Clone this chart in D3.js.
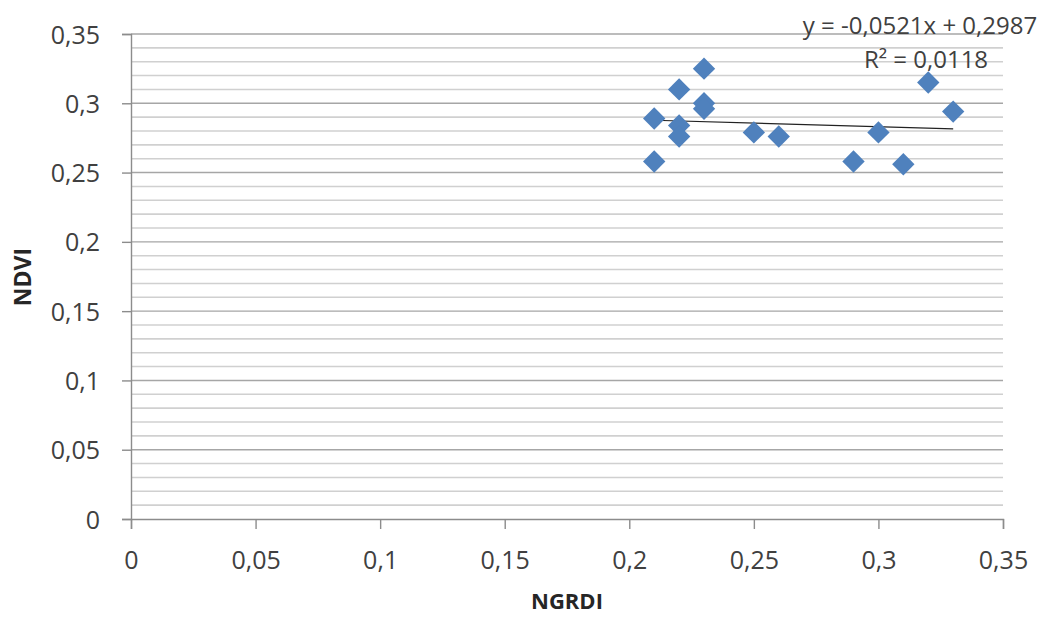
<!DOCTYPE html>
<html>
<head>
<meta charset="utf-8">
<script src="https://cdn.jsdelivr.net/npm/d3@7"></script>
<style>
  body { margin: 0; background: #fff; }
  text { font-family: "Open Sans", "Liberation Sans", sans-serif; }
</style>
</head>
<body>
<div id="chart"></div>
<script>
// NGRDI (x) vs NDVI (y)
var ngrdi = [0.21, 0.21, 0.22, 0.22, 0.22, 0.23, 0.23, 0.23, 0.25, 0.26, 0.29, 0.30, 0.31, 0.32, 0.33];
var ndvi  = [0.289, 0.258, 0.310, 0.284, 0.276, 0.325, 0.300, 0.296, 0.279, 0.276, 0.258, 0.279, 0.256, 0.315, 0.294];
var xTicks = [0, 0.05, 0.1, 0.15, 0.2, 0.25, 0.3, 0.35];
var yTicks = [0, 0.05, 0.1, 0.15, 0.2, 0.25, 0.3, 0.35];
var slope = -0.0521, intercept = 0.2987;
var eqLabel = 'y = -0,0521x + 0,2987';
var r2Label = 'R² = 0,0118';

var width = 1059, height = 618;
var svg = d3.select('#chart').append('svg')
    .attr('width', width)
    .attr('height', height);

var x = d3.scaleLinear().domain([0, 0.35]).range([131, 1003]);
var y = d3.scaleLinear().domain([0, 0.35]).range([519, 34]);
var fmt = function(d) { return String(+d.toFixed(2)).replace('.', ','); };

// minor gridlines every 0.01
var minor = d3.range(1, 35).filter(function(i) { return i % 5 !== 0; }).map(function(i) { return i / 100; });
svg.append('g').selectAll('line').data(minor).enter().append('line')
    .attr('x1', x(0)).attr('x2', x(0.35))
    .attr('y1', function(d) { return y(d); }).attr('y2', function(d) { return y(d); })
    .attr('stroke', '#d0d0d0').attr('stroke-width', 1.6);

// major gridlines
svg.append('g').selectAll('line').data(yTicks.slice(1)).enter().append('line')
    .attr('x1', x(0)).attr('x2', x(0.35))
    .attr('y1', function(d) { return y(d); }).attr('y2', function(d) { return y(d); })
    .attr('stroke', '#a6a6a6').attr('stroke-width', 1.4);

// axes
var xAxis = d3.axisBottom(x).tickValues(xTicks).tickFormat(fmt).tickSize(10).tickPadding(22);
var yAxis = d3.axisLeft(y).tickValues(yTicks).tickFormat(fmt).tickSize(9).tickPadding(22);

var gx = svg.append('g').attr('transform', 'translate(0,' + y(0) + ')').call(xAxis);
var gy = svg.append('g').attr('transform', 'translate(' + x(0) + ',0)').call(yAxis);
[gx, gy].forEach(function(g) {
    g.select('.domain').attr('stroke', '#8c8c8c').attr('stroke-width', 1.4);
    g.selectAll('.tick line').attr('stroke', '#8c8c8c').attr('stroke-width', 1.4);
    g.selectAll('.tick text').attr('fill', '#404040').style('font-size', '25px')
        .style('font-family', '"Open Sans", sans-serif');
});
gy.selectAll('.tick text').attr('dy', '0.36em');

// trend line
var xs = d3.extent(ngrdi);
svg.append('line')
    .attr('x1', x(xs[0])).attr('y1', y(slope * xs[0] + intercept))
    .attr('x2', x(xs[1])).attr('y2', y(slope * xs[1] + intercept))
    .attr('stroke', '#222').attr('stroke-width', 1.2);

// points
var diamond = d3.symbol().type(d3.symbolSquare).size(250);
svg.append('g').selectAll('path').data(ngrdi).enter().append('path')
    .attr('d', diamond)
    .attr('transform', function(d, i) { return 'translate(' + x(d) + ',' + y(ndvi[i]) + ') rotate(45)'; })
    .attr('fill', '#4f81bd');

// equation labels
svg.append('text').attr('x', 920).attr('y', 34).attr('text-anchor', 'middle')
    .attr('fill', '#404040').style('font-size', '24px').text(eqLabel);
svg.append('text').attr('x', 926).attr('y', 68).attr('text-anchor', 'middle')
    .attr('fill', '#404040').style('font-size', '24px').text(r2Label);

// axis titles
svg.append('text').attr('x', (x(0) + x(0.35)) / 2).attr('y', 609).attr('text-anchor', 'middle')
    .attr('fill', '#262626').style('font-size', '22px').style('font-weight', 'bold').text('NGRDI');
svg.append('text').attr('transform', 'translate(31,' + 277 + ') rotate(-90)')
    .attr('text-anchor', 'middle')
    .attr('fill', '#262626').style('font-size', '23px').style('font-weight', 'bold').text('NDVI');
</script>
</body>
</html>
